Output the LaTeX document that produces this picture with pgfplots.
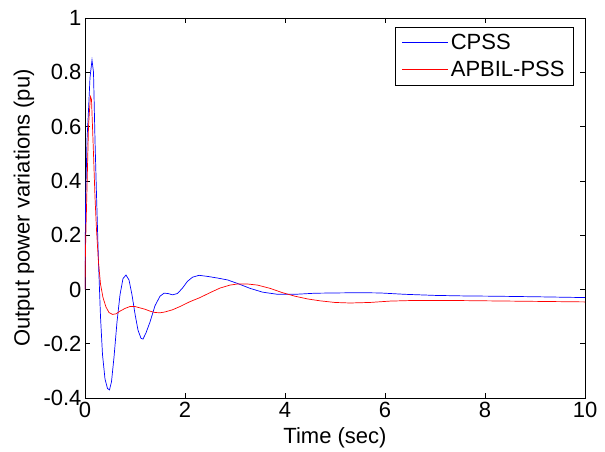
\documentclass[border=0pt]{standalone}
\usepackage{fontspec}
\setmainfont{Liberation Sans}
\usepackage{pgfplots}
\pgfplotsset{compat=1.18}

\pgfplotstableread{
t y
0 0
0.01 0.30
0.04 0.55
0.07 0.66
0.10 0.78
0.14 0.845
0.17 0.80
0.20 0.55
0.23 0.35
0.27 0.10
0.31 -0.10
0.35 -0.24
0.40 -0.33
0.45 -0.365
0.49 -0.37
0.53 -0.34
0.58 -0.25
0.64 -0.12
0.70 -0.02
0.76 0.04
0.82 0.053
0.88 0.035
0.94 -0.02
1.00 -0.09
1.06 -0.15
1.12 -0.18
1.16 -0.183
1.22 -0.16
1.30 -0.12
1.40 -0.06
1.50 -0.025
1.58 -0.014
1.66 -0.015
1.75 -0.02
1.85 -0.015
1.95 0.005
2.05 0.03
2.15 0.045
2.28 0.052
2.45 0.048
2.65 0.042
2.85 0.035
3.05 0.022
3.30 0.004
3.55 -0.010
3.85 -0.018
4.20 -0.018
4.60 -0.014
5.00 -0.013
5.50 -0.012
5.90 -0.013
6.40 -0.018
7.00 -0.022
7.60 -0.024
8.20 -0.025
9.00 -0.027
10.0 -0.030
}\cpss

\pgfplotstableread{
t y
0 0
0.01 0.15
0.03 0.30
0.05 0.45
0.07 0.60
0.09 0.66
0.11 0.71
0.13 0.70
0.15 0.60
0.17 0.50
0.20 0.34
0.23 0.22
0.27 0.10
0.31 0.02
0.36 -0.03
0.42 -0.065
0.48 -0.085
0.55 -0.092
0.62 -0.090
0.70 -0.080
0.80 -0.070
0.90 -0.063
1.00 -0.063
1.10 -0.068
1.20 -0.073
1.30 -0.080
1.40 -0.085
1.50 -0.086
1.60 -0.083
1.75 -0.075
1.90 -0.063
2.10 -0.045
2.30 -0.030
2.50 -0.012
2.70 0.005
2.90 0.016
3.05 0.020
3.25 0.020
3.45 0.016
3.70 0.004
3.95 -0.012
4.20 -0.025
4.45 -0.035
4.70 -0.042
5.00 -0.048
5.30 -0.050
5.70 -0.048
6.10 -0.043
6.50 -0.041
7.50 -0.041
8.50 -0.043
10.0 -0.046
}\apbil

\begin{document}
\begin{tikzpicture}
\begin{axis}[
    scale only axis,
    width=500pt,
    height=380pt,
    xmin=0, xmax=10,
    ymin=-0.4, ymax=1,
    xtick={0,2,4,6,8,10},
    ytick={-0.4,-0.2,0,0.2,0.4,0.6,0.8,1},
    yticklabels={-0.4,-0.2,0,0.2,0.4,0.6,0.8,1},
    xticklabels={0,2,4,6,8,10},
    tick align=inside,
    major tick length=5pt,
    every tick/.style={black, line width=0.6pt},
    axis line style={line width=0.9pt},
    ticklabel style={font=\fontsize{22}{24}\selectfont},
    xticklabel style={yshift=-1pt},
    every axis x label/.style={at={(axis description cs:0.5,0)}, yshift=-40pt, anchor=center,
        font=\fontsize{22}{24}\selectfont},
    every axis y label/.style={at={(axis description cs:0,0.5)}, xshift=-61pt, rotate=90, anchor=center,
        font=\fontsize{22}{24}\selectfont},
    xlabel={Time (sec)},
    ylabel={Output power variations (pu)},
    legend style={at={(1,1)}, anchor=north east, xshift=-11pt, yshift=-9pt,
        font=\fontsize{22}{24}\selectfont, line width=0.9pt,
        inner xsep=7pt, inner ysep=5pt, row sep=6pt},
    legend cell align=left,
    legend image code/.code={\draw[mark repeat=2,mark phase=2,#1] plot coordinates {(0pt,0.5pt) (23pt,0.5pt) (46pt,0.5pt)};},
]
\addplot[color=blue, line width=0.7pt] table[x=t, y=y] {\cpss};
\addlegendentry{CPSS}
\addplot[color=red, line width=0.7pt] table[x=t, y=y] {\apbil};
\addlegendentry{APBIL-PSS}
\end{axis}
\pgfresetboundingbox
\path (-85pt,-54pt) rectangle (520pt,398pt);
\end{tikzpicture}
\end{document}
